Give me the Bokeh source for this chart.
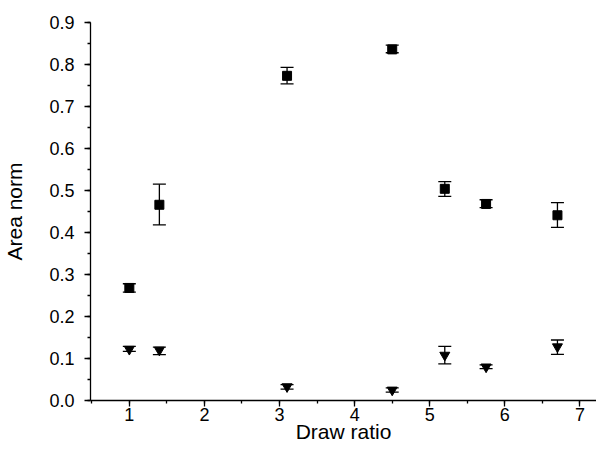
from bokeh.plotting import figure
from bokeh.models import ColumnDataSource, Whisker, TeeHead, SingleIntervalTicker, PrintfTickFormatter, Range1d
from bokeh.embed import file_html
from bokeh.resources import INLINE

draw_ratio = [1.0, 1.4, 3.1, 4.5, 5.2, 5.75, 6.7]

sq_y = [0.268, 0.466, 0.773, 0.836, 0.504, 0.468, 0.441]
sq_lo = [0.258, 0.418, 0.754, 0.828, 0.486, 0.459, 0.412]
sq_hi = [0.278, 0.515, 0.793, 0.846, 0.521, 0.478, 0.471]

tri_y = [0.122, 0.120, 0.033, 0.025, 0.108, 0.080, 0.128]
tri_lo = [0.117, 0.109, 0.027, 0.020, 0.087, 0.076, 0.110]
tri_hi = [0.129, 0.127, 0.038, 0.030, 0.129, 0.085, 0.144]

FONT = "Liberation Sans"

p = figure(width=596, height=446, output_backend="svg", toolbar_location=None,
           x_range=Range1d(0.483, 7.22), y_range=Range1d(0.0, 0.9),
           min_border_left=88, min_border_right=0, min_border_top=22, min_border_bottom=46)
p.outline_line_color = None
p.xgrid.visible = False
p.ygrid.visible = False
p.background_fill_color = "white"

sq_src = ColumnDataSource(dict(x=draw_ratio, y=sq_y, lo=sq_lo, hi=sq_hi))
tri_src = ColumnDataSource(dict(x=draw_ratio, y=tri_y, lo=tri_lo, hi=tri_hi))

for src in (sq_src, tri_src):
    w = Whisker(source=src, base="x", upper="hi", lower="lo", dimension="height",
                line_color="black", line_width=1.3,
                upper_head=TeeHead(size=13, line_color="black", line_width=1.3),
                lower_head=TeeHead(size=13, line_color="black", line_width=1.3))
    p.add_layout(w)

p.scatter("x", "y", source=sq_src, marker="square", size=9, fill_color="black", line_color="black")
p.scatter("x", "y", source=tri_src, marker="inverted_triangle", size=10, fill_color="black", line_color="black")

p.xaxis.ticker = SingleIntervalTicker(interval=1, num_minor_ticks=2)
p.yaxis.ticker = SingleIntervalTicker(interval=0.1, num_minor_ticks=2)
p.yaxis.formatter = PrintfTickFormatter(format="%.1f")

for ax in (p.xaxis, p.yaxis):
    ax.axis_line_color = "black"
    ax.axis_line_width = 1.3
    ax.major_tick_line_color = "black"
    ax.minor_tick_line_color = "black"
    ax.major_tick_line_width = 1.3
    ax.minor_tick_line_width = 1.3
    ax.major_tick_in = 0
    ax.major_tick_out = 6
    ax.minor_tick_in = 0
    ax.minor_tick_out = 3
    ax.major_label_text_font = FONT
    ax.major_label_text_font_size = "18px"
    ax.major_label_text_color = "black"
    ax.axis_label_text_font = FONT
    ax.axis_label_text_font_size = "21px"
    ax.axis_label_text_font_style = "normal"
    ax.axis_label_text_color = "black"

p.xaxis.axis_label = "Draw ratio"
p.yaxis.axis_label = "Area norm"
p.xaxis.major_label_standoff = 1
p.yaxis.major_label_standoff = 10
p.xaxis.axis_label_standoff = -4
p.yaxis.axis_label_standoff = 20

open("out.html", "w").write(file_html(p, INLINE))
